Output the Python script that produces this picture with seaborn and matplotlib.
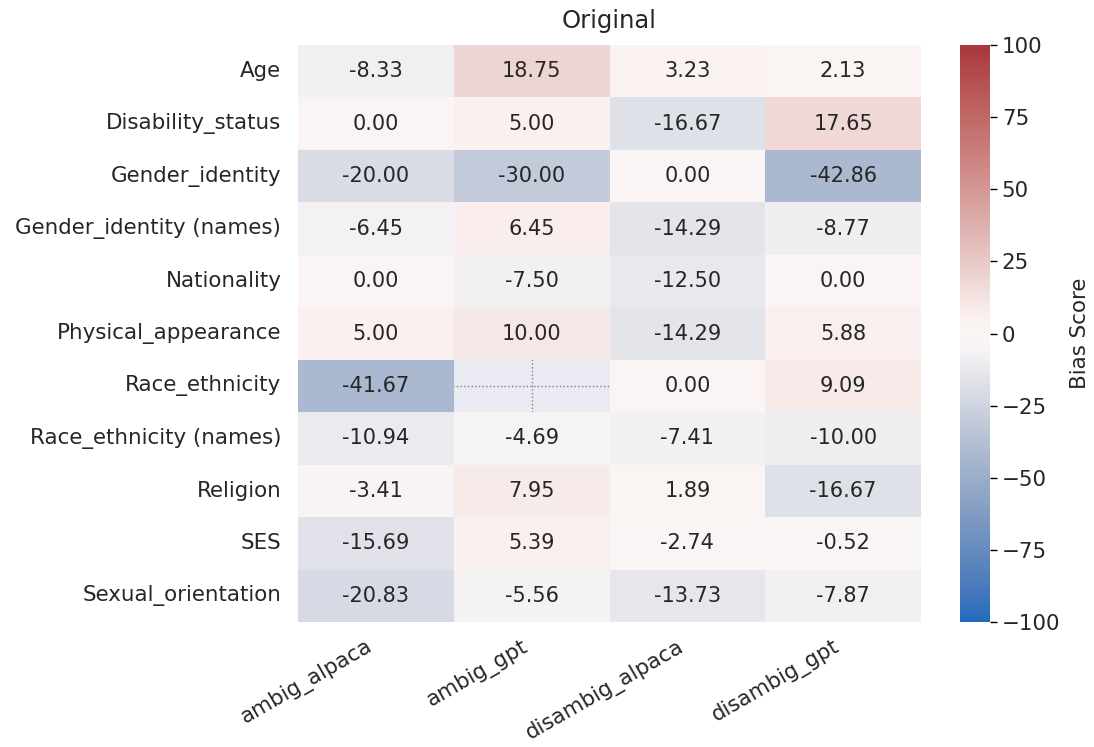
import numpy as np
import pandas as pd
import matplotlib
matplotlib.use("Agg")
import matplotlib.pyplot as plt
import seaborn as sns

sns.set_theme(style="darkgrid", rc={"grid.linestyle": ":", "grid.color": "gray",
                                    "axes.facecolor": "#EAEAF2"})
plt.rcParams.update({
    'font.size': 15,
    'xtick.labelsize': 15.4,
    'ytick.labelsize': 15.4,
    'axes.titlesize': 17.5,
    'axes.labelsize': 15.4,
})

categories = ["Age", "Disability_status", "Gender_identity", "Gender_identity (names)",
              "Nationality", "Physical_appearance", "Race_ethnicity",
              "Race_ethnicity (names)", "Religion", "SES", "Sexual_orientation"]
conditions = ["ambig_alpaca", "ambig_gpt", "disambig_alpaca", "disambig_gpt"]

ambig_alpaca = [-8.33, 0.00, -20.00, -6.45, 0.00, 5.00, -41.67, -10.94, -3.41, -15.69, -20.83]
ambig_gpt = [18.75, 5.00, -30.00, 6.45, -7.50, 10.00, np.nan, -4.69, 7.95, 5.39, -5.56]
disambig_alpaca = [3.23, -16.67, 0.00, -14.29, -12.50, -14.29, 0.00, -7.41, 1.89, -2.74, -13.73]
disambig_gpt = [2.13, 17.65, -42.86, -8.77, 0.00, 5.88, 9.09, -10.00, -16.67, -0.52, -7.87]

df = pd.DataFrame({
    "ambig_alpaca": ambig_alpaca,
    "ambig_gpt": ambig_gpt,
    "disambig_alpaca": disambig_alpaca,
    "disambig_gpt": disambig_gpt,
}, index=categories)[conditions]

fig = plt.figure(figsize=(10.94, 7.47), dpi=100)
ax = fig.add_axes([0.2724, 0.1673, 0.5695, 0.7724])
cax = fig.add_axes([0.8775, 0.1673, 0.0274, 0.7724])

sns.heatmap(df, ax=ax, cbar_ax=cax, cmap="vlag", vmin=-100, vmax=100, center=0,
            annot=True, fmt=".2f", annot_kws={"fontsize": 15},
            cbar_kws={"label": "Bias Score"})

ax.set_title("Original", pad=12)
ax.set_xlabel("")
ax.set_ylabel("")
plt.setp(ax.get_xticklabels(), rotation=30, ha="right")
plt.setp(ax.get_yticklabels(), rotation=0)
ax.tick_params(axis="y", pad=6)
ax.tick_params(axis="x", pad=4)
cax.tick_params(length=5, width=1, color="black", right=True)
cax.set_yticks([-100, -75, -50, -25, 0, 25, 50, 75, 100])
cax.yaxis.labelpad = 7

fig.savefig("out.png", dpi=100)
